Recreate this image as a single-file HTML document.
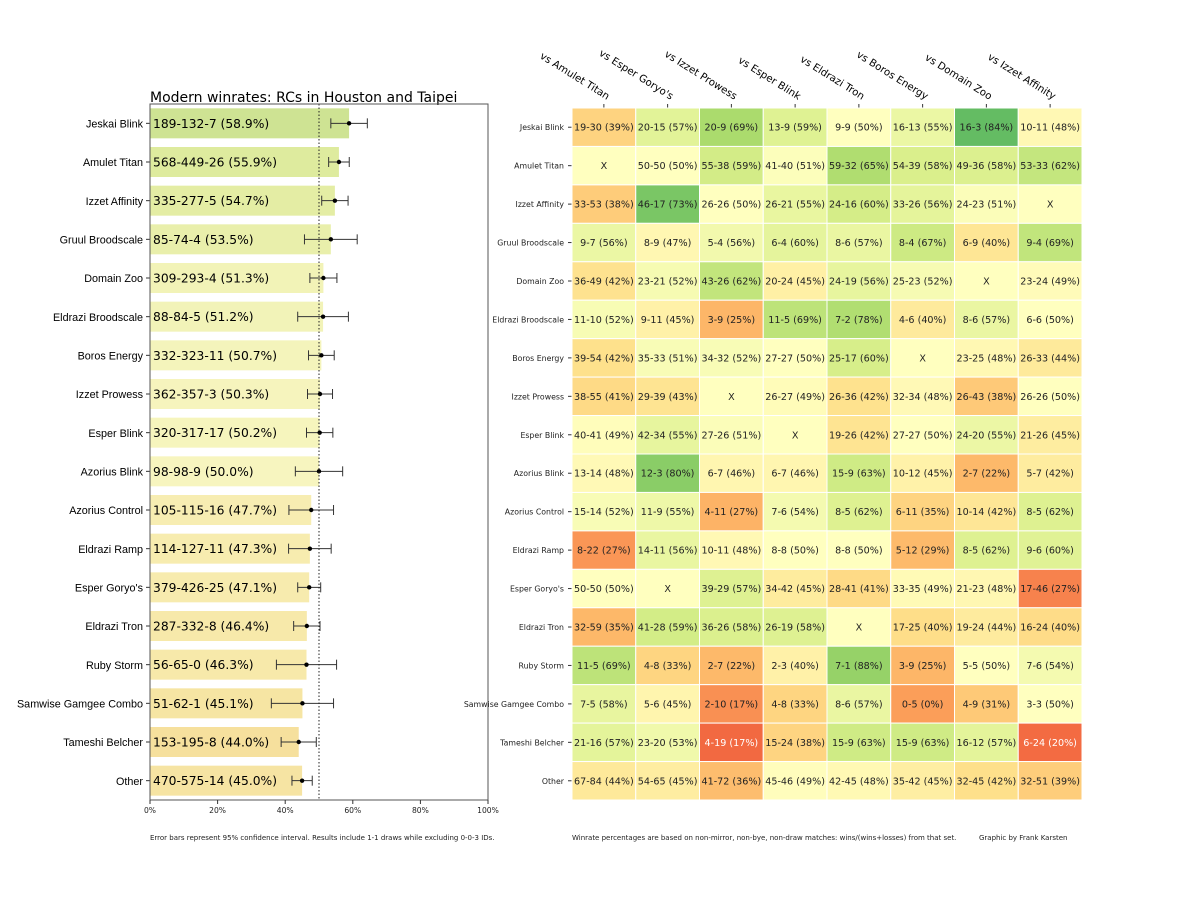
<!DOCTYPE html>
<html><head><meta charset="utf-8"><style>
body{margin:0;background:#fff;}
svg{display:block;font-family:"DejaVu Sans","Liberation Sans",sans-serif;}
</style></head><body>
<svg id="chart" width="1200" height="900" viewBox="0 0 1200 900" xmlns="http://www.w3.org/2000/svg">
<rect width="1200" height="900" fill="#fff"/>
<g id="bars"></g>
<g id="heat"></g>
</svg>
<script>
const decks = ["Jeskai Blink","Amulet Titan","Izzet Affinity","Gruul Broodscale","Domain Zoo","Eldrazi Broodscale","Boros Energy","Izzet Prowess","Esper Blink","Azorius Blink","Azorius Control","Eldrazi Ramp","Esper Goryo's","Eldrazi Tron","Ruby Storm","Samwise Gamgee Combo","Tameshi Belcher","Other"];
const records = ["189-132-7","568-449-26","335-277-5","85-74-4","309-293-4","88-84-5","332-323-11","362-357-3","320-317-17","98-98-9","105-115-16","114-127-11","379-426-25","287-332-8","56-65-0","51-62-1","153-195-8","470-575-14"];
const winrates = [58.9,55.9,54.7,53.5,51.3,51.2,50.7,50.3,50.2,50.0,47.7,47.3,47.1,46.4,46.3,45.1,44.0,45.0];
const ciHalf = [5.4,3.05,3.9,7.8,4.0,7.5,3.8,3.7,3.9,7.0,6.6,6.3,3.4,3.9,8.9,9.2,5.2,3.0];
const xTicks = [0,20,40,60,80,100];
const opponents = ["vs Amulet Titan","vs Esper Goryo's","vs Izzet Prowess","vs Esper Blink","vs Eldrazi Tron","vs Boros Energy","vs Domain Zoo","vs Izzet Affinity"];
const matchups = [
["19-30","20-15","20-9","13-9","9-9","16-13","16-3","10-11"],
["X","50-50","55-38","41-40","59-32","54-39","49-36","53-33"],
["33-53","46-17","26-26","26-21","24-16","33-26","24-23","X"],
["9-7","8-9","5-4","6-4","8-6","8-4","6-9","9-4"],
["36-49","23-21","43-26","20-24","24-19","25-23","X","23-24"],
["11-10","9-11","3-9","11-5","7-2","4-6","8-6","6-6"],
["39-54","35-33","34-32","27-27","25-17","X","23-25","26-33"],
["38-55","29-39","X","26-27","26-36","32-34","26-43","26-26"],
["40-41","42-34","27-26","X","19-26","27-27","24-20","21-26"],
["13-14","12-3","6-7","6-7","15-9","10-12","2-7","5-7"],
["15-14","11-9","4-11","7-6","8-5","6-11","10-14","8-5"],
["8-22","14-11","10-11","8-8","8-8","5-12","8-5","9-6"],
["50-50","X","39-29","34-42","28-41","33-35","21-23","17-46"],
["32-59","41-28","36-26","26-19","X","17-25","19-24","16-24"],
["11-5","4-8","2-7","2-3","7-1","3-9","5-5","7-6"],
["7-5","5-6","2-10","4-8","8-6","0-5","4-9","3-3"],
["21-16","23-20","4-19","15-24","15-9","15-9","16-12","6-24"],
["67-84","54-65","41-72","45-46","42-45","35-42","32-45","32-51"]];

const NS="http://www.w3.org/2000/svg";
function mk(tag,attrs,parent,text){const e=document.createElementNS(NS,tag);for(const k in attrs)e.setAttribute(k,attrs[k]);if(text!==undefined)e.textContent=text;parent.appendChild(e);return e;}
const stops=[[165,0,38],[215,48,39],[244,109,67],[253,174,97],[254,224,139],[255,255,191],[217,239,139],[166,217,106],[102,189,99],[26,152,80],[0,104,55]];
function cmap(t){t=Math.max(0,Math.min(1,t));const f=t*10,i=Math.min(9,Math.floor(f)),r=f-i;return stops[i].map((c,k)=>c+(stops[i+1][k]-c)*r);}
function rgb(c){return `rgb(${c.map(Math.round).join(',')})`;}

// ---- Bar chart ----
const bars=document.getElementById('bars');
const ax={x0:150,x1:488,y0:104,y1:800};
const xs=v=>ax.x0+(ax.x1-ax.x0)*v/100;
const rowY=i=>ax.y0+(ax.y1-ax.y0)*(i+0.5)/decks.length;
const title=mk('text',{x:150,y:102,'font-size':14,fill:'#000'},bars,'Modern winrates: RCs in Houston and Taipei');

const mixc=[235,230,190];
decks.forEach((d,i)=>{
  const y=rowY(i);
  const c=cmap(0.5+(winrates[i]-50)/100*1.8).map((v,k)=>v*0.6+mixc[k]*0.4);
  const b=mk('rect',{x:xs(0),y:y-15,width:xs(winrates[i])-xs(0),height:30,fill:rgb(c)},bars);
  
  
  const lab=mk('text',{x:143,y:y+4.2,'font-size':10.8,'text-anchor':'end',fill:'#000','font-family':'"Liberation Sans",sans-serif'},bars,d);
  
  mk('line',{x1:146,x2:150,y1:y,y2:y,stroke:'#333','stroke-width':1},bars);
  const vt=mk('text',{x:153,y:y+4.5,'font-size':12.3,fill:'#000'},bars,`${records[i]} (${winrates[i].toFixed(1)}%)`);
  
  const lo=xs(winrates[i]-ciHalf[i]),hi=xs(winrates[i]+ciHalf[i]);
  const eb=mk('g',{},bars);
  
  mk('line',{x1:lo,x2:hi,y1:y,y2:y,stroke:'#333','stroke-width':1},eb);
  mk('line',{x1:lo,x2:lo,y1:y-5,y2:y+5,stroke:'#333','stroke-width':1},eb);
  mk('line',{x1:hi,x2:hi,y1:y-5,y2:y+5,stroke:'#333','stroke-width':1},eb);
  mk('circle',{cx:xs(winrates[i]),cy:y,r:2.2,fill:'#000'},eb);
});
const ref=mk('line',{x1:xs(50),x2:xs(50),y1:ax.y0,y2:ax.y1,stroke:'#222','stroke-width':1,'stroke-dasharray':'1.5,2'},bars);

const frame=mk('rect',{x:ax.x0,y:ax.y0,width:ax.x1-ax.x0,height:ax.y1-ax.y0,fill:'none',stroke:'#555','stroke-width':1},bars);

xTicks.forEach(t=>{
  mk('line',{x1:xs(t),x2:xs(t),y1:ax.y1,y2:ax.y1+4,stroke:'#333'},bars);
  const tl=mk('text',{x:xs(t),y:ax.y1+13,'font-size':7.6,'text-anchor':'middle',fill:'#222'},bars,t+'%');
  
});
const fn1=mk('text',{x:150,y:840,'font-size':7,fill:'#222'},bars,'Error bars represent 95% confidence interval. Results include 1-1 draws while excluding 0-0-3 IDs.');


// ---- Heatmap ----
const heat=document.getElementById('heat');
const hm={x0:572,x1:1082,y0:108,y1:800};
const cw=(hm.x1-hm.x0)/opponents.length, ch=(hm.y1-hm.y0)/decks.length;
opponents.forEach((o,j)=>{
  const cx=hm.x0+cw*(j+0.5);
  mk('line',{x1:cx,x2:cx,y1:hm.y0-4,y2:hm.y0,stroke:'#333'},heat);
  const t=mk('text',{x:0,y:0,'font-size':10.2,'text-anchor':'end',fill:'#000',transform:`translate(${cx+3},${hm.y0-8}) rotate(32)`},heat,o);
  
});
decks.forEach((d,i)=>{
  const y=hm.y0+ch*i;
  const rl=mk('text',{x:hm.x0-8,y:y+ch/2+3,'font-size':7.8,'text-anchor':'end',fill:'#222'},heat,d);
  
  mk('line',{x1:hm.x0-4,x2:hm.x0,y1:y+ch/2,y2:y+ch/2,stroke:'#333'},heat);
  matchups[i].forEach((m,j)=>{
    const x=hm.x0+cw*j;
    let fill='rgb(255,255,191)',txt='X',w=0,l=0;
    if(m!=='X'){[w,l]=m.split('-').map(Number);
      const ps=(w+5)/(w+l+10);
      fill=rgb(cmap(0.5+(ps-0.5)*1.35));
      txt=`${m} (${Math.round(100*w/(w+l))}%)`;}
    const cell=mk('rect',{x:x,y:y,width:cw,height:ch,fill:fill,stroke:'#fff','stroke-width':1},heat);
    
    const dark=m!=='X'&&(w+5)/(w+l+10)<0.3;
    const ct=mk('text',{x:x+cw/2,y:y+ch/2+3.5,'font-size':9.6,'text-anchor':'middle',fill:dark?'#fff':'#222'},heat,txt);
    
  });
});
const fn2=mk('text',{x:572,y:840,'font-size':7,fill:'#222'},heat,'Winrate percentages are based on non-mirror, non-bye, non-draw matches: wins/(wins+losses) from that set.');

const fn3=mk('text',{x:979,y:840,'font-size':7,fill:'#222'},heat,'Graphic by Frank Karsten');

</script>
</body></html>
